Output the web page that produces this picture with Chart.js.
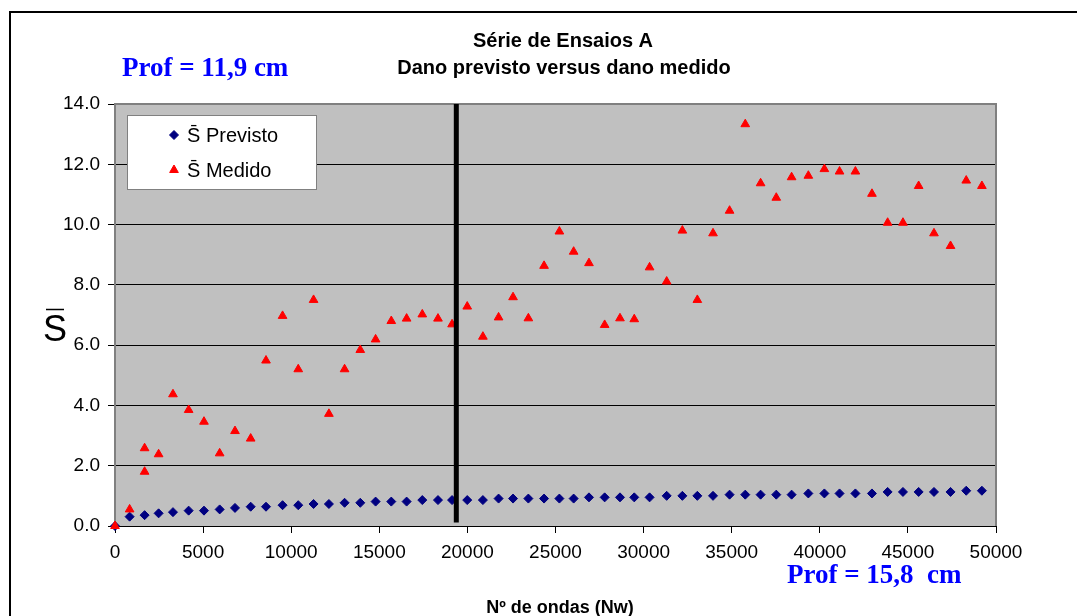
<!DOCTYPE html>
<html>
<head>
<meta charset="utf-8">
<title>Série de Ensaios A</title>
<script src="https://cdn.jsdelivr.net/npm/chart.js@4.4.1/dist/chart.umd.min.js"></script>
<style>
    body { margin: 0; background: #fff; }
    #wrap { width: 1077px; height: 616px; }
</style>
</head>
<body>
<div id="wrap"><canvas id="danoChart" width="1077" height="616"></canvas></div>
<script>
// Nº de ondas (Nw) for each point
const ondas = [0, 830, 1680, 2475, 3290, 4180, 5050, 5940, 6810, 7700, 8570, 9510, 10400, 11270,
    12140, 13030, 13920, 14790, 15680, 16550, 17440, 18330, 19130, 19990, 20880, 21770, 22590,
    23460, 24350, 25220, 26030, 26900, 27790, 28660, 29470, 30340, 31310, 32200, 33050, 33940,
    34880, 35770, 36640, 37530, 38400, 39350, 40260, 41120, 42020, 42960, 43850, 44720, 45610,
    46480, 47420, 48310, 49200];

// S previsto (same x as ondas)
const sPrevisto = [0, 0.31, 0.36, 0.42, 0.46, 0.51, 0.51, 0.55, 0.60, 0.64, 0.64, 0.69, 0.69, 0.73,
    0.73, 0.77, 0.77, 0.81, 0.81, 0.81, 0.86, 0.86, 0.86, 0.86, 0.86, 0.91, 0.91, 0.91, 0.91,
    0.91, 0.91, 0.95, 0.95, 0.95, 0.95, 0.95, 1.00, 1.00, 1.00, 1.00, 1.04, 1.04, 1.04, 1.04,
    1.04, 1.08, 1.08, 1.08, 1.08, 1.08, 1.13, 1.13, 1.13, 1.13, 1.13, 1.17, 1.17];

// S medido has two readings at 1680 ondas
const ondasMedido = [0, 830, 1680, 1680, 2475, 3290, 4180, 5050, 5940, 6810, 7700, 8570, 9510,
    10400, 11270, 12140, 13030, 13920, 14790, 15680, 16550, 17440, 18330, 19130, 19990, 20880,
    21770, 22590, 23460, 24350, 25220, 26030, 26900, 27790, 28660, 29470, 30340, 31310, 32200,
    33050, 33940, 34880, 35770, 36640, 37530, 38400, 39350, 40260, 41120, 42020, 42960, 43850,
    44720, 45610, 46480, 47420, 48310, 49200];
const sMedido = [0, 0.55, 2.58, 1.80, 2.38, 4.37, 3.85, 3.46, 2.41, 3.15, 2.90, 5.49, 6.97, 5.20,
    7.50, 3.72, 5.20, 5.84, 6.19, 6.80, 6.88, 7.02, 6.88, 6.69, 7.28, 6.28, 6.92, 7.59, 6.89,
    8.63, 9.77, 9.10, 8.72, 6.67, 6.89, 6.86, 8.58, 8.11, 9.80, 7.50, 9.71, 10.46, 13.33, 11.37,
    10.89, 11.57, 11.62, 11.84, 11.76, 11.76, 11.02, 10.06, 10.06, 11.28, 9.71, 9.29, 11.46, 11.28];

// change of depth (Prof 11,9 cm -> 15,8 cm)
const ondasMudanca = 19370;
const linhaMudanca = [0.12, 14];

const xTicks = { min: 0, max: 50000, step: 5000 };
const yTicks = { min: 0, max: 14, step: 2 };

const titulo = ['Série de Ensaios A', 'Dano previsto versus dano medido'];
const legendaNomes = ['S\u0304 Previsto', 'S\u0304 Medido'];

const SANS = "'Liberation Sans', Arial, sans-serif";
const SERIF = "'Liberation Serif', 'Times New Roman', serif";

const toPoints = (xs, ys) => xs.map((x, i) => ({ x: x, y: ys[i] }));

// Background, frame, legend box and free texts
const molduraPlugin = {
    id: 'moldura',
    beforeDraw(chart) {
        const { ctx, chartArea: a } = chart;
        ctx.save();
        ctx.fillStyle = '#fff';
        ctx.fillRect(0, 0, chart.width, chart.height);
        ctx.strokeStyle = '#000';
        ctx.lineWidth = 2;
        ctx.strokeRect(10, 12, chart.width + 20, chart.height + 20);
        ctx.fillStyle = '#c0c0c0';
        ctx.fillRect(a.left, a.top, a.right - a.left, a.bottom - a.top);
        ctx.restore();
    },
    beforeDatasetsDraw(chart) {
        const { ctx, chartArea: a } = chart;
        ctx.save();
        ctx.strokeStyle = '#808080';
        ctx.lineWidth = 2;
        ctx.beginPath();
        ctx.moveTo(a.left, a.bottom);
        ctx.lineTo(a.left, a.top);
        ctx.lineTo(a.right, a.top);
        ctx.lineTo(a.right, a.bottom);
        ctx.stroke();
        ctx.restore();
    },
    afterDraw(chart) {
        const { ctx } = chart;
        ctx.save();

        // titles
        ctx.fillStyle = '#000';
        ctx.textAlign = 'center';
        ctx.textBaseline = 'alphabetic';
        ctx.font = 'bold 20px ' + SANS;
        ctx.fillText(titulo[0], 563, 47);
        ctx.fillText(titulo[1], 564, 74);

        // x axis title
        ctx.font = 'bold 18px ' + SANS;
        ctx.fillText('Nº de ondas (Nw)', 560, 613);

        // y axis title: S with overbar
        ctx.font = '36px ' + SANS;
        ctx.fillText('S', 55, 341);
        ctx.strokeStyle = '#000';
        ctx.lineWidth = 1.5;
        ctx.beginPath();
        ctx.moveTo(46, 309.5);
        ctx.lineTo(64, 309.5);
        ctx.stroke();

        // depth labels
        ctx.fillStyle = '#0000ff';
        ctx.font = 'bold 27px ' + SERIF;
        ctx.textAlign = 'left';
        ctx.fillText('Prof = 11,9 cm', 122, 76);
        ctx.fillText('Prof = 15,8  cm', 787, 583);

        // legend
        ctx.fillStyle = '#fff';
        ctx.fillRect(127, 115, 189, 74);
        ctx.strokeStyle = '#808080';
        ctx.lineWidth = 1;
        ctx.strokeRect(127.5, 115.5, 189, 74);

        const ds = chart.data.datasets;
        const rows = [{ d: ds[2], y: 135, base: 142 }, { d: ds[1], y: 170, base: 177 }];
        rows.forEach((r, i) => {
            ctx.fillStyle = r.d.pointBackgroundColor;
            ctx.strokeStyle = r.d.pointBorderColor;
            ctx.lineWidth = 1;
            Chart.helpers.drawPoint(ctx, {
                pointStyle: r.d.pointStyle,
                radius: r.d.pointRadius,
                rotation: 0,
                borderWidth: 1
            }, 174, r.y);
            ctx.fillStyle = '#000';
            ctx.font = '20px ' + SANS;
            ctx.fillText(legendaNomes[i], 187, r.base);
        });
        ctx.restore();
    }
};

document.addEventListener('DOMContentLoaded', function () {
    const ctx = document.getElementById('danoChart').getContext('2d');

    new Chart(ctx, {
        type: 'scatter',
        data: {
            datasets: [
                {
                    type: 'line',
                    label: 'Mudança',
                    data: linhaMudanca.map(y => ({ x: ondasMudanca, y: y })),
                    borderColor: '#000',
                    borderWidth: 5,
                    pointRadius: 0,
                    fill: false
                },
                {
                    label: legendaNomes[1],
                    data: toPoints(ondasMedido, sMedido),
                    pointStyle: 'triangle',
                    pointRadius: 5,
                    pointBackgroundColor: '#ff0000',
                    pointBorderColor: '#ff0000',
                    pointBorderWidth: 1,
                    clip: false
                },
                {
                    label: legendaNomes[0],
                    data: toPoints(ondas, sPrevisto),
                    pointStyle: 'rectRot',
                    pointRadius: 4.5,
                    pointBackgroundColor: '#000080',
                    pointBorderColor: '#000080',
                    pointBorderWidth: 1,
                    clip: false
                }
            ]
        },
        options: {
            responsive: false,
            animation: false,
            layout: {
                padding: { left: 10, top: 104, right: 81, bottom: 20 }
            },
            scales: {
                x: {
                    type: 'linear',
                    min: xTicks.min,
                    max: xTicks.max,
                    afterFit: s => { s.height = 70; },
                    ticks: {
                        stepSize: xTicks.step,
                        color: '#000',
                        font: { family: SANS, size: 19 },
                        padding: 8,
                        maxRotation: 0,
                        callback: v => String(v)
                    },
                    grid: {
                        drawOnChartArea: false,
                        tickLength: 7,
                        color: '#000'
                    },
                    border: { color: '#000', width: 1 }
                },
                y: {
                    min: yTicks.min,
                    max: yTicks.max,
                    afterFit: s => { s.width = 105; },
                    ticks: {
                        stepSize: yTicks.step,
                        color: '#000',
                        font: { family: SANS, size: 19 },
                        padding: 8,
                        callback: v => v.toFixed(1)
                    },
                    grid: {
                        tickLength: 7,
                        color: '#000',
                        tickColor: '#000'
                    },
                    border: { color: '#808080', width: 1 }
                }
            },
            plugins: {
                legend: { display: false },
                title: { display: false },
                tooltip: { enabled: false }
            }
        },
        plugins: [molduraPlugin]
    });
});
</script>
</body>
</html>
